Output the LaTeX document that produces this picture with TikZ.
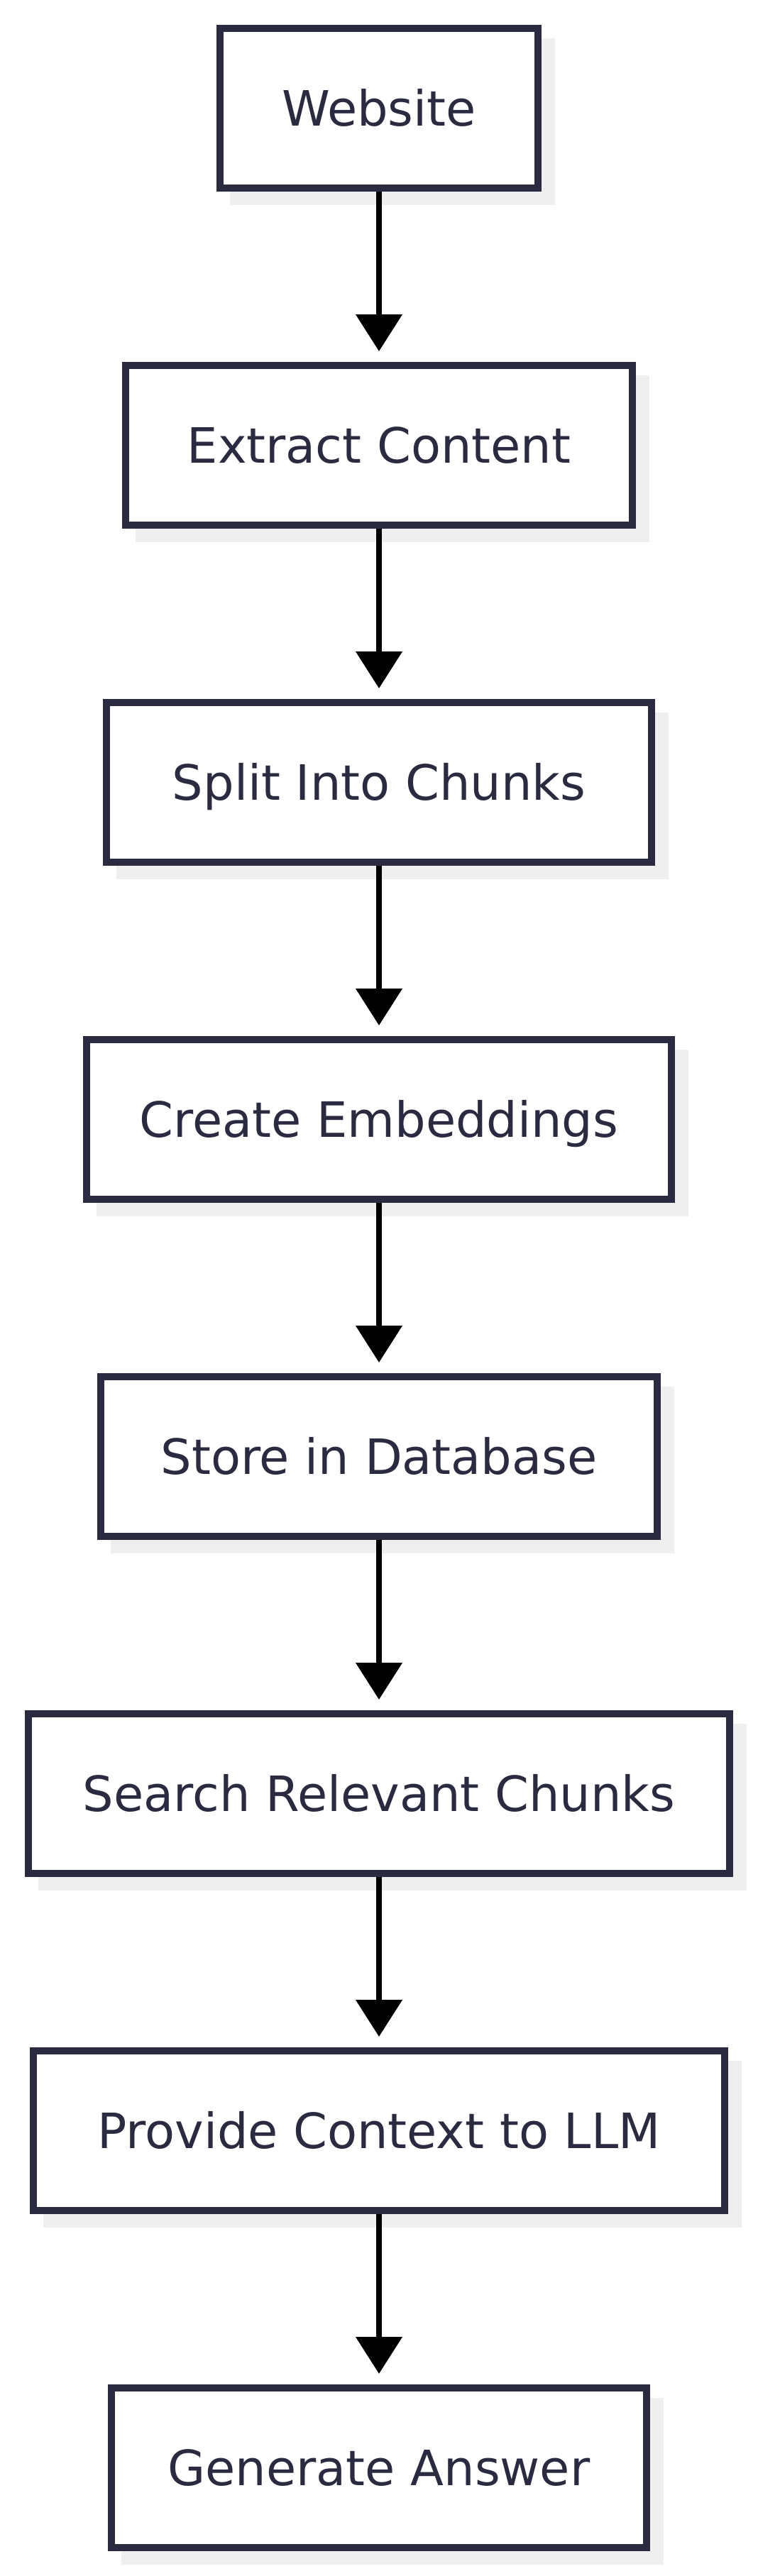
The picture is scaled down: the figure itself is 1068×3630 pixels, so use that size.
\documentclass[tikz,border=0pt]{standalone}
\usepackage{fontspec}
\setmainfont{DejaVu Sans}
\usepackage{tikz}
\usetikzlibrary{arrows.meta}
\usetikzlibrary{shadows}
\definecolor{boxline}{HTML}{2A2A40}
\definecolor{shadowgrey}{HTML}{EFEFEF}

\begin{document}
\begin{tikzpicture}[x=0.25pt,y=-0.25pt,
    stage/.style={draw=boxline,line width=2.5pt,fill=white,minimum height=56.25pt,
        text=boxline,font=\fontsize{17.15pt}{20pt}\selectfont,text height=12.5pt,text depth=0pt,
        drop shadow={shadow xshift=4.75pt,shadow yshift=-4.75pt,fill=shadowgrey,draw=shadowgrey,line width=2.5pt,opacity=1}},
    flow/.style={draw=black,line width=2pt,-{Triangle[width=16pt,length=13pt]},shorten >=3.75pt}]
            \useasboundingbox (0,0) rectangle (1068,3630);
            \node[stage,minimum width=112pt] (web) at (534,152.5) {Website};
            \node[stage,minimum width=178.5pt] (extract) at (534,627.5) {Extract Content};
            \node[stage,minimum width=192pt] (split) at (534,1102.5) {Split Into Chunks};
            \node[stage,minimum width=206pt] (embed) at (534,1577.5) {Create Embeddings};
            \node[stage,minimum width=196pt] (store) at (534,2052.5) {Store in Database};
            \node[stage,minimum width=247pt] (search) at (534,2527.5) {Search Relevant Chunks};
            \node[stage,minimum width=243.5pt] (context) at (534,3002.5) {Provide Context to LLM};
            \node[stage,minimum width=188.5pt] (answer) at (534,3477.5) {Generate Answer};
            \draw[flow] (web) -- (extract);
            \draw[flow] (extract) -- (split);
            \draw[flow] (split) -- (embed);
            \draw[flow] (embed) -- (store);
            \draw[flow] (store) -- (search);
            \draw[flow] (search) -- (context);
            \draw[flow] (context) -- (answer);
        \end{tikzpicture}
\end{document}
